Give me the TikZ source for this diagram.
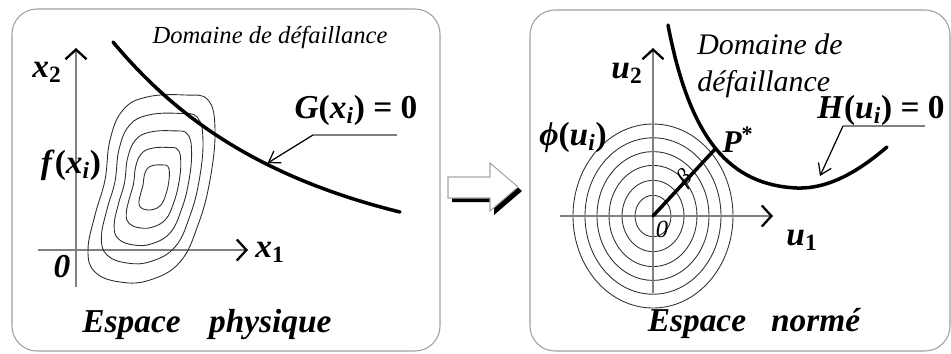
\documentclass[tikz,border=0pt]{standalone}
\usepackage{fontspec}
\setmainfont{Liberation Serif}
\usetikzlibrary{arrows.meta}

\newcommand{\idx}[1]{\textsubscript{#1}}

\begin{document}
\begin{tikzpicture}[
    x=0.02cm,
    y=-0.02cm,
    panel/.style={gray!75, line width=0.6pt, rounded corners=0.5cm},
    axis/.style={gray, line width=0.6pt, -{Straight Barb[length=5.5pt,width=12pt,line width=1.3pt,color=black]}},
    limit/.style={black, line width=2pt, line cap=round},
    iso/.style={gray!35!black, line width=0.5pt},
    ring/.style={black!80, line width=0.5pt},
    leader/.style={gray, line width=0.8pt},
    pointer/.style={black, line width=0.7pt, -{Straight Barb[length=6pt,width=8pt]}},
    dom/.style={inner sep=0pt, font=\fontsize{14}{16}\selectfont\itshape},
    domb/.style={inner sep=0pt, align=left, font=\fontsize{17}{21}\selectfont\itshape},
    sym/.style={inner sep=0pt, font=\fontsize{19}{22}\selectfont\bfseries},
    title/.style={inner sep=0pt, font=\fontsize{19}{23}\selectfont\bfseries\itshape}
  ]
    \useasboundingbox (0,0) rectangle (951,353);
    % the two panels
    \draw[panel] (12,9) rectangle (440,351);
    \draw[panel] (530,10) rectangle (950,351);

    % physical space
    \draw[axis] (38,250) -- (248,250);
    \draw[axis] (76,287) -- (76,48);
    \begin{scope}[shift={(155,187)}]
      \foreach \s in {1,0.8,0.61,0.43,0.24} {
        \draw[iso, scale=\s] plot[smooth cycle, tension=0.7] coordinates {
          (-32,-77) (-8,-90) (30,-92) (53,-87) (60,-57) (55,-7) (43,38) (25,75)
          (-5,93) (-35,95) (-60,85) (-67,63) (-60,28) (-50,-7) (-45,-47)};
      }
    \end{scope}
    \draw[limit] (113,42) .. controls (170,110) and (250,175) .. coordinate[pos=0.65] (gt) (400,212);
    \coordinate (ga) at (397,135);
    \coordinate (gk) at (313,135);
    \draw[leader] (ga) -- (gk);
    \draw[pointer, shorten >=1pt] (gk) -- (gt);

    \node[dom] (dom1) at (270,37) {Domaine de défaillance};
    \node[sym] (glab) at (356,110) {\textit{G}(\textit{x}\idx{\textit{i}}) = 0};
    \node[sym] (x2lab) at (47,72) {\textit{x}\idx{2}};
    \node[sym] (x1lab) at (270,252) {\textit{x}\idx{1}};
    \node[sym] (flab) at (71,165) {\textit{f}(\textit{x}\idx{\textit{i}})};
    \node[sym] (zlab) at (62,267) {\textit{0}};
    \node[title] (esp1) at (207,325) {Espace\hspace{0.6em} physique};

    % shadowed arrow between the panels
    \fill[black, shift={(4,4)}] (448,177) -- (490,177) -- (490,163) -- (518,187)
      -- (490,211) -- (490,198) -- (448,198) -- cycle;
    \filldraw[fill=white, draw=gray!70, line width=0.6pt] (448,177) -- (490,177) -- (490,163)
      -- (518,187) -- (490,211) -- (490,198) -- (448,198) -- cycle;

    % normed space
    \coordinate (org) at (653,216);
    \foreach \r in {18,31,44,56,68,80} {
      \draw[ring] (org) ellipse[x radius=\r, y radius=1.15*\r];
    }
    \draw[axis] (560,216) -- (773,216);
    \draw[axis] (653,293) -- (653,48);
    \draw[limit] (668,25) .. controls (690,140) and (730,185) .. coordinate[pos=0.5] (pst) (797,188)
      .. controls (830,189) and (860,170) .. (887,147);
    \coordinate (ht) at (820,176);
    \coordinate (ha) at (925,126);
    \coordinate (hk) at (843,126);
    \draw[leader] (ha) -- (hk);
    \draw[pointer] (hk) -- (ht);
    \draw[limit] (org) -- (pst);

    \node[domb, anchor=west] (dom2) at (697,66) {Domaine de\\défaillance};
    \node[sym] (hlab) at (881,110) {\textit{H}(\textit{u}\idx{\textit{i}}) = 0};
    \node[sym] (u2lab) at (627,73) {\textit{u}\idx{2}};
    \node[sym] (u1lab) at (802,240) {\textit{u}\idx{1}};
    \node[sym] (philab) at (573,137) {\textit{ϕ}(\textit{u}\idx{\textit{i}})};
    \node[sym, font=\fontsize{18}{20}\selectfont\bfseries\itshape] (plab) at (738,140) {P\textsuperscript{\upshape *}};
    \node[inner sep=0pt, font=\fontsize{13}{14}\selectfont\itshape, rotate=45] (blab) at (686,179) {β};
    \node[inner sep=0pt, font=\fontsize{14}{16}\selectfont\itshape] (zero2) at (662,229) {0};
    \node[title] (esp2) at (754,323) {Espace\hspace{0.5em} normé};
  \end{tikzpicture}
\end{document}
